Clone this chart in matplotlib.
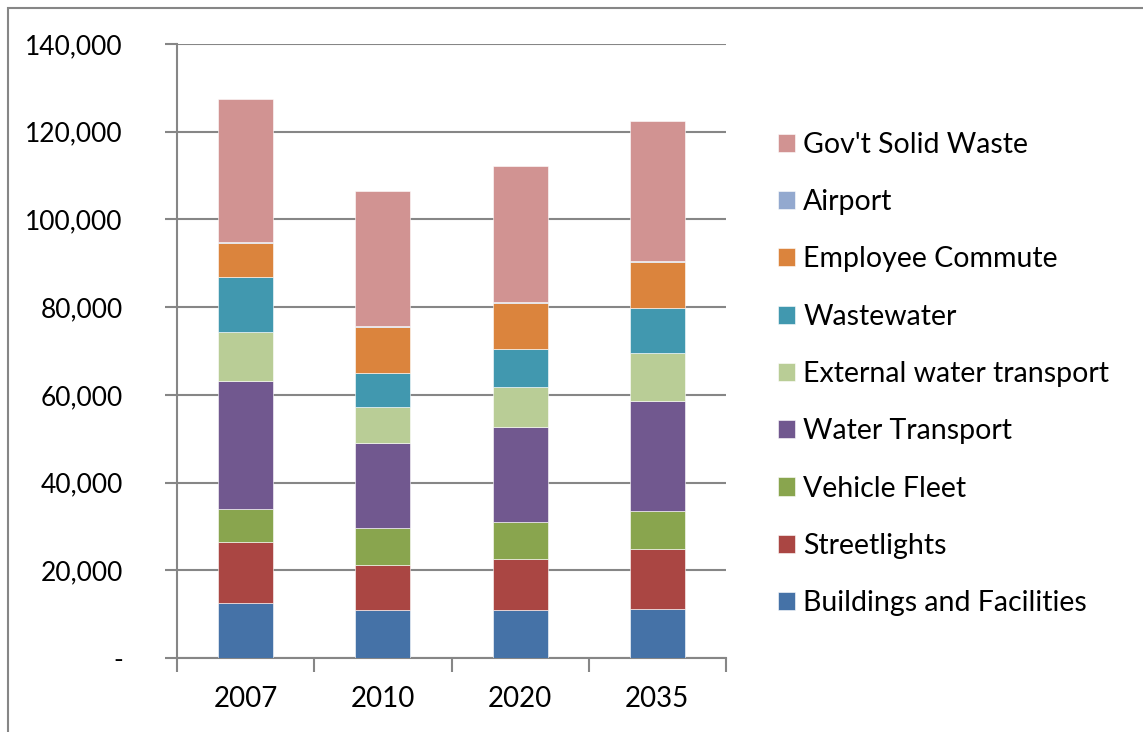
import numpy as np
import matplotlib.pyplot as plt
from matplotlib.patches import Rectangle
from matplotlib.ticker import FuncFormatter

plt.rcParams['font.family'] = ['Lato', 'DejaVu Sans']

years = ['2007', '2010', '2020', '2035']
series_names = ['Buildings and Facilities', 'Streetlights', 'Vehicle Fleet',
                'Water Transport', 'External water transport', 'Wastewater',
                'Employee Commute', 'Airport', "Gov't Solid Waste"]

buildings = [12600, 10870, 11020, 11170]
streetlights = [13800, 10410, 11470, 13590]
vehicle_fleet = [7650, 8380, 8450, 8670]
water_transport = [29050, 19300, 21660, 25280]
ext_water = [11150, 8200, 9190, 10760]
wastewater = [12700, 7900, 8610, 10380]
commute = [7650, 10300, 10440, 10450]
airport = [250, 250, 250, 250]
solid_waste = [32620, 30790, 31135, 31890]

colors = ['#4572A7', '#AA4643', '#89A54E', '#71588F', '#B9CD96',
          '#4198AF', '#DB843D', '#93A9CF', '#D19392']

data = [buildings, streetlights, vehicle_fleet, water_transport, ext_water,
        wastewater, commute, airport, solid_waste]

fig = plt.figure(figsize=(11.43, 7.32), dpi=100)
ax = fig.add_axes([177 / 1143, 74 / 732, 549 / 1143, 614 / 732])

# outer chart border (cropped at right and bottom)
fig.patches.append(Rectangle((8 / 1143, -0.1), 1.2, (732 - 8) / 732 + 0.1,
                             transform=fig.transFigure, fill=False,
                             edgecolor='#868686', linewidth=1.5))

x = np.arange(len(years))
bottom = np.zeros(len(years))
handles = []
for name, vals, c in zip(series_names, data, colors):
    b = ax.bar(x, vals, width=0.4, bottom=bottom, color=c, label=name,
               edgecolor='white', linewidth=0.4, zorder=3)
    handles.append(b)
    bottom += np.array(vals)

ax.set_xlim(-0.5, 3.5)
ax.set_ylim(0, 140000)
ax.set_yticks(np.arange(0, 140001, 20000))
ax.yaxis.set_major_formatter(FuncFormatter(lambda v, p: '-' if v == 0 else f'{int(v):,}'))
ax.yaxis.grid(True, color='#868686', linewidth=1.5, zorder=0)

ax.set_xticks(x)
ax.set_xticklabels(years)
ax.set_xticks(np.arange(-0.5, 4, 1), minor=True)
ax.tick_params(axis='x', which='major', length=0, pad=20, labelsize=20)
ax.tick_params(axis='x', which='minor', length=10, width=1.5, color='#868686')
ax.tick_params(axis='y', length=9, width=1.5, color='#868686', pad=30, labelsize=19)

for s in ['top', 'right']:
    ax.spines[s].set_visible(False)
for s in ['left', 'bottom']:
    ax.spines[s].set_color('#868686')
    ax.spines[s].set_linewidth(1.5)

leg = fig.legend(handles[::-1], series_names[::-1], loc='upper left',
                 bbox_to_anchor=(752 / 1143, 1 - 106 / 732), frameon=False,
                 fontsize=20.5, handlelength=0.6, handleheight=0.6,
                 handletextpad=0.3, labelspacing=1.1)

fig.savefig('out.png', dpi=100)
